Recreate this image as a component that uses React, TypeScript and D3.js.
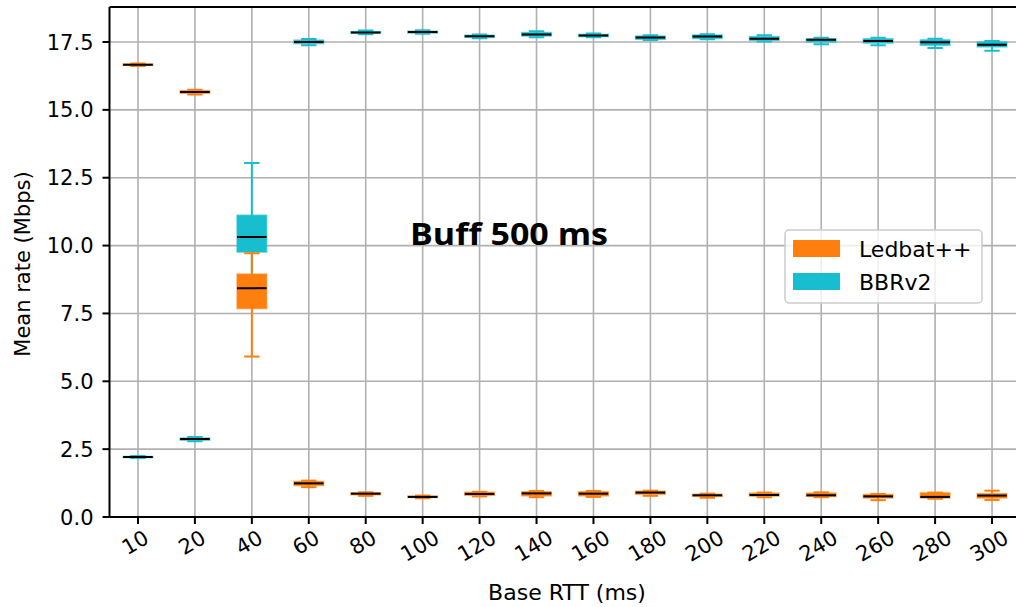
import React from 'react';
import * as d3 from 'd3';

const rtts = ['10', '20', '40', '60', '80', '100', '120', '140', '160', '180', '200', '220', '240', '260', '280', '300'];
const yTicks = [0, 2.5, 5, 7.5, 10, 12.5, 15, 17.5];

// Ledbat++ box stats
const ledbatLo = [16.62, 15.57, 5.91, 1.1, 0.78, 0.69, 0.76, 0.73, 0.74, 0.78, 0.71, 0.73, 0.73, 0.62, 0.67, 0.63];
const ledbatQ1 = [16.64, 15.61, 7.68, 1.16, 0.82, 0.72, 0.8, 0.78, 0.78, 0.84, 0.76, 0.77, 0.76, 0.7, 0.7, 0.7];
const ledbatMed = [16.66, 15.66, 8.43, 1.24, 0.86, 0.74, 0.85, 0.87, 0.86, 0.9, 0.8, 0.81, 0.8, 0.76, 0.74, 0.79];
const ledbatQ3 = [16.69, 15.71, 8.95, 1.31, 0.89, 0.77, 0.91, 0.93, 0.93, 0.95, 0.84, 0.88, 0.88, 0.83, 0.89, 0.86];
const ledbatHi = [16.71, 15.74, 9.72, 1.34, 0.91, 0.79, 0.93, 0.96, 0.96, 0.97, 0.86, 0.9, 0.91, 0.85, 0.9, 0.97];

// BBRv2 box stats
const bbrLo = [2.17, 2.79, 8.8, 17.38, 17.79, 17.8, 17.64, 17.68, 17.68, 17.57, 17.6, 17.52, 17.42, 17.38, 17.28, 17.18];
const bbrQ1 = [2.19, 2.83, 9.76, 17.44, 17.82, 17.83, 17.67, 17.72, 17.7, 17.6, 17.63, 17.56, 17.5, 17.46, 17.38, 17.32];
const bbrMed = [2.21, 2.87, 10.32, 17.5, 17.85, 17.87, 17.71, 17.78, 17.74, 17.67, 17.7, 17.62, 17.58, 17.54, 17.49, 17.4];
const bbrQ3 = [2.23, 2.91, 11.12, 17.57, 17.88, 17.9, 17.75, 17.85, 17.78, 17.72, 17.76, 17.7, 17.62, 17.62, 17.58, 17.5];
const bbrHi = [2.25, 2.95, 13.04, 17.61, 17.92, 17.93, 17.78, 17.9, 17.81, 17.75, 17.79, 17.75, 17.66, 17.66, 17.62, 17.54];

const series = [
  { name: 'BBRv2', color: '#17becf', lo: bbrLo, q1: bbrQ1, med: bbrMed, q3: bbrQ3, hi: bbrHi },
  { name: 'Ledbat++', color: '#ff7f0e', lo: ledbatLo, q1: ledbatQ1, med: ledbatMed, q3: ledbatQ3, hi: ledbatHi },
];
const legendOrder = ['Ledbat++', 'BBRv2'];

const W = 1016;
const H = 607;
const plot = { left: 109.5, right: 1020.5, top: 7, bottom: 517 };
const font = 'DejaVu Sans, sans-serif';
const tickFs = 21;

const App: React.FC = () => {
  const x = d3.scaleBand<string>().domain(rtts).range([plot.left, plot.right]).padding(0);
  const y = d3.scaleLinear().domain([0, 18.79]).range([plot.bottom, plot.top]);
  const bw = x.bandwidth();
  const boxW = bw * 0.52;
  const capW = bw * 0.27;
  const cx = (r: string) => (x(r) as number) + bw / 2;

  // rotated tick label: matplotlib-style centered bbox hanging from the tick
  const rad = (30 * Math.PI) / 180;
  const labelPos = (r: string) => {
    const w = r.length * 0.636 * tickFs;
    const h = 0.95 * tickFs;
    const bh = w * Math.sin(rad) + h * Math.cos(rad);
    return { x: cx(r) - 3, y: plot.bottom + 10 + bh / 2 };
  };

  return (
    <svg width={W} height={H} style={{ position: 'absolute', left: 0, top: 0, background: '#fff' }}>
      <defs>
        <clipPath id="plotclip">
          <rect x={plot.left} y={plot.top} width={plot.right - plot.left} height={plot.bottom - plot.top} />
        </clipPath>
      </defs>
      {/* grid */}
      <g stroke="#b0b0b0" strokeWidth={1.6}>
        {rtts.map(r => (
          <line key={'gx' + r} x1={cx(r)} x2={cx(r)} y1={plot.top} y2={plot.bottom} />
        ))}
        {yTicks.map(t => (
          <line key={'gy' + t} x1={plot.left} x2={plot.right} y1={y(t)} y2={y(t)} />
        ))}
      </g>

      {/* boxes */}
      <g clipPath="url(#plotclip)">
        {series.map(s => (
          <g key={s.name}>
            {rtts.map((r, i) => {
              const c = cx(r);
              return (
                <g key={r}>
                  <line x1={c} x2={c} y1={y(s.lo[i])} y2={y(s.q1[i])} stroke={s.color} strokeWidth={2} />
                  <line x1={c} x2={c} y1={y(s.q3[i])} y2={y(s.hi[i])} stroke={s.color} strokeWidth={2} />
                  <line x1={c - capW / 2} x2={c + capW / 2} y1={y(s.lo[i])} y2={y(s.lo[i])} stroke={s.color} strokeWidth={2} />
                  <line x1={c - capW / 2} x2={c + capW / 2} y1={y(s.hi[i])} y2={y(s.hi[i])} stroke={s.color} strokeWidth={2} />
                  <rect
                    x={c - boxW / 2}
                    y={y(s.q3[i])}
                    width={boxW}
                    height={Math.max(0.5, y(s.q1[i]) - y(s.q3[i]))}
                    fill={s.color}
                    stroke={s.color}
                    strokeOpacity={0.6}
                    strokeWidth={1.5}
                  />
                  <line x1={c - boxW / 2} x2={c + boxW / 2} y1={y(s.med[i])} y2={y(s.med[i])} stroke="#000" strokeWidth={2} />
                </g>
              );
            })}
          </g>
        ))}
      </g>

      {/* spines */}
      <g stroke="#000" strokeWidth={2} fill="none">
        <line x1={plot.left} x2={plot.right} y1={plot.top} y2={plot.top} />
        <line x1={plot.left} x2={plot.right} y1={plot.bottom} y2={plot.bottom} />
        <line x1={plot.left} x2={plot.left} y1={plot.top} y2={plot.bottom} />
        <line x1={plot.right} x2={plot.right} y1={plot.top} y2={plot.bottom} />
      </g>

      {/* y ticks */}
      {yTicks.map(t => (
        <g key={'yt' + t}>
          <line x1={plot.left - 7} x2={plot.left} y1={y(t)} y2={y(t)} stroke="#000" strokeWidth={2} />
          <text x={plot.left - 16} y={y(t)} dy="0.36em" textAnchor="end" fontFamily={font} fontSize={tickFs} fill="#000">
            {d3.format('.1f')(t)}
          </text>
        </g>
      ))}

      {/* x ticks */}
      {rtts.map(r => {
        const p = labelPos(r);
        return (
          <g key={'xt' + r}>
            <line x1={cx(r)} x2={cx(r)} y1={plot.bottom} y2={plot.bottom + 7} stroke="#000" strokeWidth={2} />
            <text
              transform={`translate(${p.x},${p.y}) rotate(-30)`}
              textAnchor="middle"
              dy="0.36em"
              fontFamily={font}
              fontSize={tickFs}
              fill="#000"
            >
              {r}
            </text>
          </g>
        );
      })}

      {/* axis labels */}
      <text x={567} y={600} textAnchor="middle" fontFamily={font} fontSize={22} fill="#000">
        Base RTT (ms)
      </text>
      <text transform={`translate(30,${(plot.top + plot.bottom) / 2 + 2}) rotate(-90)`} textAnchor="middle" fontFamily={font} fontSize={21} fill="#000">
        Mean rate (Mbps)
      </text>

      {/* annotation */}
      <text
        x={410}
        y={245}
        textLength={198}
        lengthAdjust="spacingAndGlyphs"
        fontFamily="Open Sans, sans-serif"
        fontWeight="bold"
        fontSize={31}
        fill="#000"
      >
        Buff 500 ms
      </text>

      {/* legend */}
      <g>
        <rect x={785} y={230} width={197} height={73} rx={4} fill="#fff" fillOpacity={0.8} stroke="#cccccc" strokeWidth={1.5} />
        {legendOrder.map((n, i) => {
          const s = series.find(d => d.name === n)!;
          return (
            <g key={n}>
              <rect x={793} y={240 + i * 33} width={47} height={17} fill={s.color} />
              <text x={859} y={257 + i * 33} fontFamily={font} fontSize={22} fill="#000">
                {n}
              </text>
            </g>
          );
        })}
      </g>
    </svg>
  );
};

export default App;
